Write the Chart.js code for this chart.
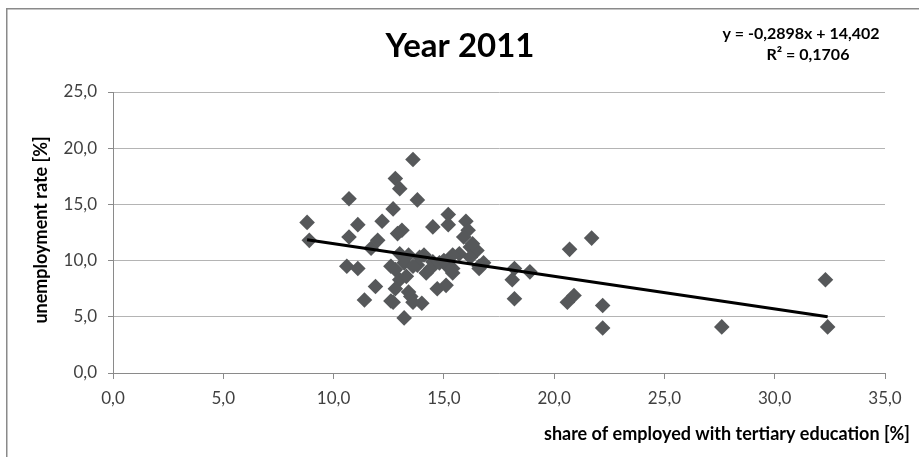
<!DOCTYPE html>
<html>
<head>
<meta charset="utf-8">
<script src="https://cdn.jsdelivr.net/npm/chart.js@4/dist/chart.umd.min.js"></script>
<style>
  html, body { margin: 0; padding: 0; background: #ffffff; }
  #wrap { width: 919px; height: 457px; position: relative; }
</style>
</head>
<body>
<div id="wrap"><canvas id="c" width="919" height="457"></canvas></div>
<script>
// Share of employed with tertiary education [%] per region
const shareTertiary = [
  8.8, 8.9, 10.7, 10.7, 11.1, 10.6, 11.1, 11.4, 11.7, 12.0,
  11.9, 12.2, 12.7, 12.8, 13.0, 13.6, 13.8, 13.1, 12.9, 12.6,
  12.6, 13.2, 14.0, 14.5, 15.2, 15.2, 16.0, 16.1, 15.9, 16.2,
  16.5, 14.7, 15.1, 15.4, 16.6, 13.0, 13.4, 13.2, 12.8, 13.0,
  13.3, 12.8, 13.4, 13.5, 14.1, 14.5, 14.4, 13.8, 15.1, 15.7,
  16.3, 16.2, 16.8, 16.6, 18.2, 18.1, 18.2, 18.9, 20.7, 21.7,
  20.9, 20.6, 22.2, 22.2, 27.6, 32.3, 32.4, 14.2, 15.4, 14.8,
  15.4, 13.6, 13.9, 15.0, 13.6, 12.7
];
// Unemployment rate [%] per region
const unemploymentRate = [
  13.4, 11.8, 15.5, 12.1, 13.2, 9.5, 9.3, 6.5, 11.1, 11.8,
  7.7, 13.5, 14.6, 17.3, 16.4, 19.0, 15.4, 12.7, 12.4, 9.5,
  6.4, 4.9, 6.2, 13.0, 14.1, 13.2, 13.5, 12.7, 12.1, 11.2,
  10.9, 7.5, 7.8, 8.9, 9.5, 10.6, 10.5, 9.8, 9.2, 8.3,
  8.6, 7.5, 7.2, 6.8, 10.5, 9.9, 9.3, 9.6, 9.6, 10.6,
  11.5, 10.3, 9.8, 9.3, 9.3, 8.3, 6.6, 9.0, 11.0, 12.0,
  6.9, 6.3, 6.0, 4.0, 4.1, 8.3, 4.1, 8.9, 10.5, 9.8,
  9.3, 9.5, 10.3, 10.0, 6.3, 6.3
];

// Linear trend as stated in the equation label
const trendSlope = -0.2898;
const trendIntercept = 14.402;
const trendLabel = 'y = -0,2898x + 14,402';
const r2Label = 'R\u00b2 = 0,1706';

const xTickLabels = ['0,0', '5,0', '10,0', '15,0', '20,0', '25,0', '30,0', '35,0'];
const yTickLabels = ['0,0', '5,0', '10,0', '15,0', '20,0', '25,0'];

const titleText = 'Year 2011';
const xTitle = 'share of employed with tertiary education [%]';
const yTitle = 'unemployment rate [%]';

const points = shareTertiary.map((x, i) => ({ x: x, y: unemploymentRate[i] }));
const xMin = Math.min(...shareTertiary);
const xMax = Math.max(...shareTertiary);
const trendPoints = [
  { x: xMin, y: trendSlope * xMin + trendIntercept },
  { x: xMax, y: trendSlope * xMax + trendIntercept }
];

const FONT = 'Lato, "Open Sans", sans-serif';

// Frame, title, equation and axis titles
const decorations = {
  id: 'decorations',
  beforeDraw(chart) {
    const ctx = chart.ctx;
    ctx.save();
    ctx.fillStyle = '#ffffff';
    ctx.fillRect(0, 0, chart.width, chart.height);
    ctx.strokeStyle = '#8a8a8a';
    ctx.lineWidth = 1.5;
    ctx.strokeRect(6.75, 8.75, 2000, 2000);
    ctx.restore();
  },
  afterDraw(chart) {
    const ctx = chart.ctx;
    ctx.save();
    ctx.fillStyle = '#000000';
    ctx.textBaseline = 'middle';

    ctx.font = 'bold 33px ' + FONT;
    ctx.textAlign = 'center';
    ctx.fillText(titleText, 460, 46);

    ctx.font = 'bold 16px ' + FONT;
    ctx.fillText(trendLabel, 801, 34);
    ctx.fillText(r2Label, 808, 55);

    ctx.font = 'bold 18px ' + FONT;
    ctx.textAlign = 'right';
    ctx.fillText(xTitle, 910, 434);

    ctx.translate(41, 230);
    ctx.rotate(-Math.PI / 2);
    ctx.textAlign = 'center';
    ctx.fillText(yTitle, 0, 0);
    ctx.restore();
  }
};

new Chart(document.getElementById('c'), {
  type: 'scatter',
  data: {
    datasets: [
      {
        type: 'line',
        label: 'trend',
        data: trendPoints,
        borderColor: '#000000',
        borderWidth: 3,
        pointRadius: 0,
        fill: false,
        order: 0
      },
      {
        label: 'regions',
        data: points,
        pointStyle: 'rectRot',
        pointRadius: 7.8,
        pointHoverRadius: 7.8,
        backgroundColor: '#56585a',
        borderColor: '#56585a',
        borderWidth: 0,
        order: 1
      }
    ]
  },
  plugins: [decorations],
  options: {
    responsive: false,
    animation: false,
    devicePixelRatio: 1,
    layout: { padding: { left: 0, right: 34, top: 92, bottom: 0 } },
    plugins: {
      legend: { display: false },
      tooltip: { enabled: false },
      title: { display: false }
    },
    scales: {
      x: {
        type: 'linear',
        min: 0,
        max: 35,
        afterFit(scale) { scale.height = 84; },
        ticks: {
          stepSize: 5,
          padding: 9,
          color: '#404040',
          font: { family: FONT, size: 17 },
          callback: (v) => xTickLabels[Math.round(v / 5)]
        },
        grid: {
          drawOnChartArea: false,
          drawTicks: true,
          tickLength: 6,
          color: '#8a8a8a'
        },
        border: { display: true, color: '#8a8a8a', width: 1 }
      },
      y: {
        type: 'linear',
        min: 0,
        max: 25,
        afterFit(scale) { scale.width = 113; },
        ticks: {
          stepSize: 5,
          padding: 11,
          color: '#404040',
          font: { family: FONT, size: 17 },
          callback: (v) => yTickLabels[Math.round(v / 5)]
        },
        grid: {
          drawTicks: true,
          tickLength: 5,
          color: '#b4b4b4',
          tickColor: '#8a8a8a'
        },
        border: { display: true, color: '#8a8a8a', width: 1 }
      }
    }
  }
});
</script>
</body>
</html>
